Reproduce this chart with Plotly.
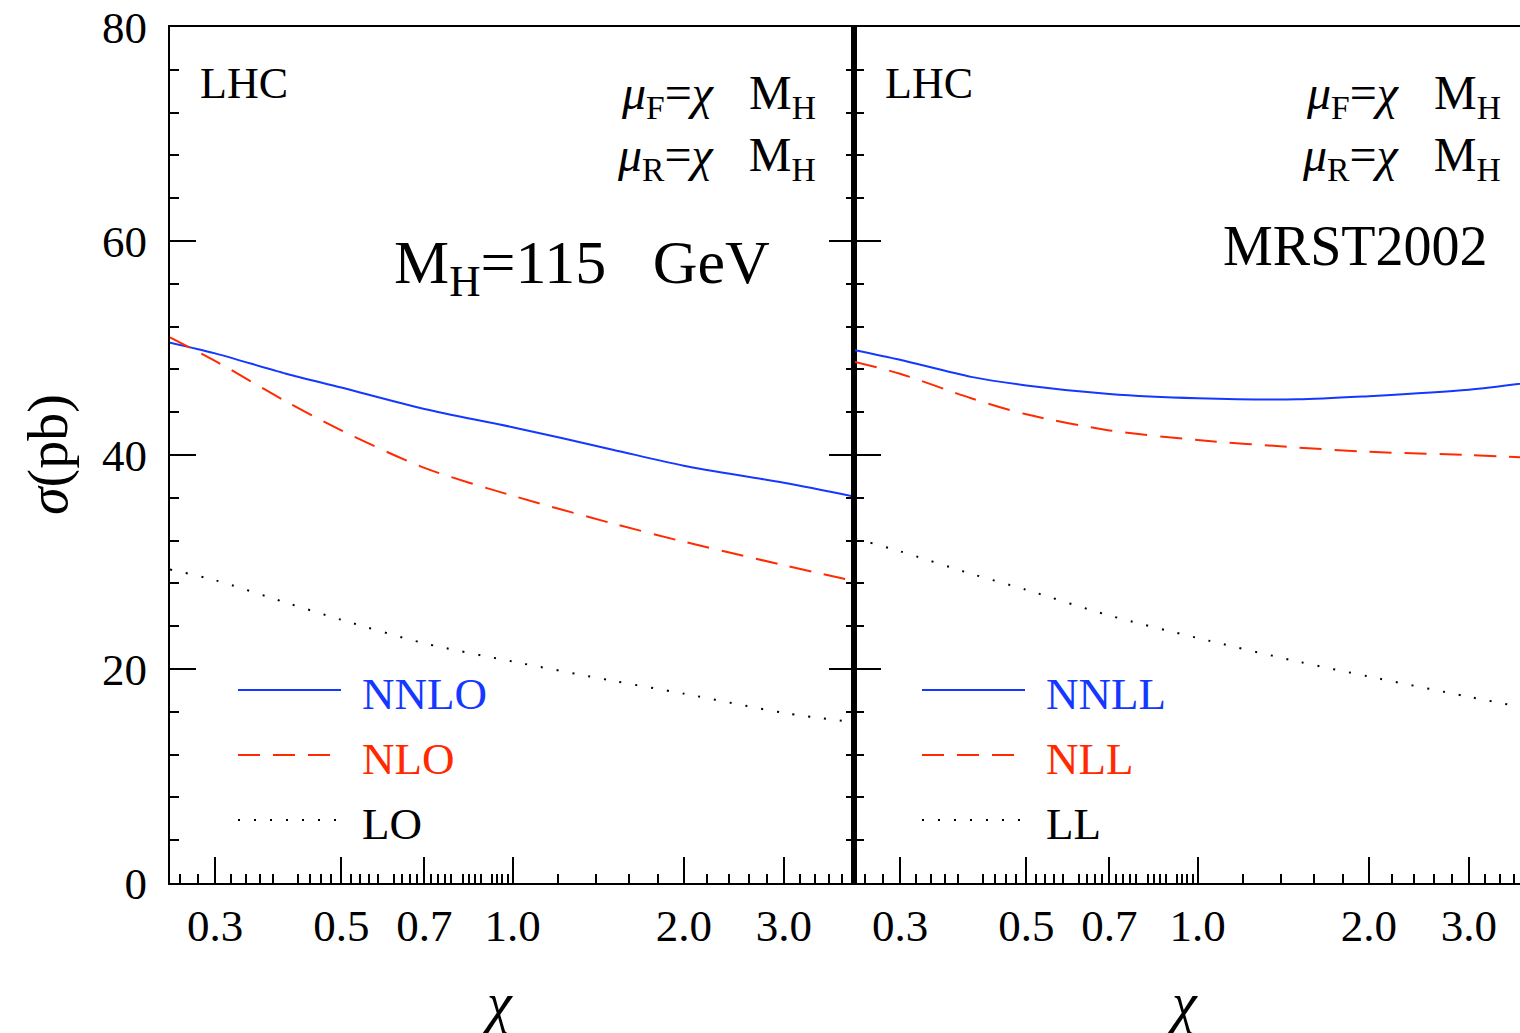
import numpy as np
import plotly.graph_objects as go

# ---------------- data ----------------
chi = [0.25, 0.3, 0.4, 0.5, 0.7, 1.0, 1.5, 2.0, 3.0, 4.0]
# left panel: fixed order
nnlo = [50.5, 49.5, 47.6, 46.3, 44.3, 42.6, 40.5, 39.0, 37.4, 36.1]
nlo = [51.0, 48.8, 45.0, 42.3, 38.8, 36.2, 33.6, 31.9, 29.7, 28.2]
lo = [29.3, 28.3, 26.2, 24.6, 22.4, 20.7, 18.9, 17.7, 15.9, 15.0]
# right panel: resummed
nnll = [49.8, 48.9, 47.3, 46.5, 45.7, 45.3, 45.2, 45.5, 46.1, 46.9]
nll = [48.7, 47.6, 45.3, 43.8, 42.3, 41.4, 40.7, 40.3, 40.0, 39.7]
ll = [32.2, 31.0, 28.9, 27.4, 25.0, 22.9, 20.7, 19.3, 17.4, 16.1]

label_ticks = [0.3, 0.5, 0.7, 1.0, 2.0, 3.0]
label_text = ["0.3", "0.5", "0.7", "1.0", "2.0", "3.0"]
long_unlabeled = [0.4, 0.6, 0.8, 0.9]
minor_ticks = [0.26, 0.28, 0.32, 0.34, 0.36, 0.38, 0.42, 0.44, 0.46, 0.48,
               0.52, 0.54, 0.56, 0.58, 0.62, 0.64, 0.66, 0.68, 0.72, 0.74, 0.76, 0.78,
               0.82, 0.84, 0.86, 0.88, 0.92, 0.94, 0.96, 0.98,
               1.2, 1.4, 1.6, 1.8, 2.2, 2.4, 2.6, 2.8, 3.2, 3.4, 3.6, 3.8]
y_major = [0, 20, 40, 60, 80]
y_minor = [4, 8, 12, 16, 24, 28, 32, 36, 44, 48, 52, 56, 64, 68, 72, 76]

BLUE = "#1438ff"
RED = "#ff2a00"
BLACK = "#000000"
FONT = "Liberation Serif"
DASH = "22px,13px"
DOT = "2px,14px"

# ---------------- geometry ----------------
W, H = 1520, 1033
L, R, T, B = 170, 1520, 27, 883
SPLIT = 855


def px(x):
    return (x - L) / (R - L)


def py(y):
    return (B - y) / (B - T)


xlo = np.log10(0.25)
xhi = np.log10(4.0)
dec_px = (SPLIT - L) / (xhi - xlo)
x2hi = xlo + (R - SPLIT) / dec_px

fig = go.Figure()

series = [
    ("x", "y", nnlo, BLUE, "solid"),
    ("x", "y", nlo, RED, DASH),
    ("x", "y", lo, BLACK, DOT),
    ("x2", "y2", nnll, BLUE, "solid"),
    ("x2", "y2", nll, RED, DASH),
    ("x2", "y2", ll, BLACK, DOT),
]
for xa, ya, vals, col, dash in series:
    fig.add_trace(go.Scatter(x=chi, y=vals, xaxis=xa, yaxis=ya, mode="lines",
                             line=dict(color=col, dash=dash, width=2, shape="spline", smoothing=0.8),
                             showlegend=False, hoverinfo="skip"))

xcommon = dict(type="log", showgrid=False, zeroline=False, showline=True, linecolor="black",
               linewidth=2, mirror=True, ticks="inside", ticklen=26, tickwidth=1.5, tickcolor="black",
               tickmode="array", tickvals=label_ticks, ticktext=label_text,
               tickfont=dict(family=FONT, size=45, color="black"), ticklabelstandoff=2,
               minor=dict(tickmode="array", tickvals=minor_ticks, ticks="inside", ticklen=9,
                          tickwidth=1.5, tickcolor="black", showgrid=False),
               automargin=False)
xlong = dict(type="log", showgrid=False, zeroline=False, showline=False, ticks="inside",
             ticklen=26, tickwidth=1.5, tickcolor="black", tickmode="array",
             tickvals=long_unlabeled, showticklabels=False, automargin=False)
ycommon = dict(range=[0, 80], showgrid=False, zeroline=False, showline=True, linecolor="black",
               ticks="inside", ticklen=26, tickwidth=1.5, tickcolor="black",
               tickmode="array", tickvals=y_major,
               minor=dict(tickmode="array", tickvals=y_minor,
                          ticks="inside", ticklen=9, tickwidth=1.5, tickcolor="black", showgrid=False),
               automargin=False)

dsplit = px(SPLIT)
fig.update_layout(
    width=W, height=H,
    margin=dict(l=L, r=W - R, t=T, b=H - B, pad=0),
    paper_bgcolor="white", plot_bgcolor="white",
    xaxis=dict(domain=[0, dsplit], range=[xlo, xhi], anchor="y", **xcommon),
    xaxis2=dict(domain=[dsplit, 1], range=[xlo, x2hi], anchor="y2", **xcommon),
    xaxis3=dict(overlaying="x", range=[xlo, xhi], anchor="y", **xlong),
    xaxis4=dict(overlaying="x2", range=[xlo, x2hi], anchor="y2", **xlong),
    yaxis=dict(domain=[0, 1], anchor="x", linewidth=2, mirror="ticks",
               tickfont=dict(family=FONT, size=45, color="black"), ticklabelstandoff=12, **ycommon),
    yaxis2=dict(domain=[0, 1], anchor="x2", linewidth=3.5, mirror=False, showticklabels=False, **ycommon),
    yaxis3=dict(range=[0, 80], overlaying="y2", anchor="free", position=1.0, side="right",
                showline=False, showgrid=False, zeroline=False, ticks="inside", ticklen=5,
                tickwidth=1.5, tickcolor="black", tickmode="array", tickvals=[20, 40, 60],
                showticklabels=False, automargin=False),
)

ann = []


def add_text(x, y, text, size, color="black", xanchor="left", yanchor="middle", angle=0):
    ann.append(dict(x=px(x), y=py(y), xref="paper", yref="paper", text=text, showarrow=False,
                    font=dict(family=FONT, size=size, color=color), xanchor=xanchor, yanchor=yanchor,
                    textangle=angle))


sp = "\u00a0"
mu_f = "<i>μ</i><sub>F</sub>=<i>χ</i>" + sp * 3 + "M<sub>H</sub>"
mu_r = "<i>μ</i><sub>R</sub>=<i>χ</i>" + sp * 3 + "M<sub>H</sub>"

for off in (0, SPLIT - L):
    add_text(198 + off, 84, "LHC", 44)
    add_text(818 + off, 96, mu_f, 48, xanchor="right")
    add_text(818 + off, 158, mu_r, 48, xanchor="right")

add_text(772, 266, "M<sub>H</sub>=115" + sp * 3 + "GeV", 62, xanchor="right")
add_text(1490, 246, "MRST2002", 56, xanchor="right")

# legends
leg_left = [("NNLO", BLUE, "solid", 692), ("NLO", RED, DASH, 757), ("LO", BLACK, DOT, 822)]
leg_right = [("NNLL", BLUE, "solid", 692), ("NLL", RED, DASH, 757), ("LL", BLACK, DOT, 822)]
shapes = []
for items, x0 in ((leg_left, 238), (leg_right, 922)):
    for name, col, dash, yy in items:
        shapes.append(dict(type="line", xref="paper", yref="paper", x0=px(x0), x1=px(x0 + 103),
                           y0=py(yy - 2), y1=py(yy - 2), line=dict(color=col, width=2, dash=dash)))
        add_text(x0 + 122, yy + 2, name, 45, color=col)

# axis titles
add_text(48, 455, "<i>σ</i>(pb)", 56, xanchor="center", angle=-90)
add_text(497, 1003, "<i>χ</i>", 56, xanchor="center")
add_text(1182, 1003, "<i>χ</i>", 56, xanchor="center")

fig.update_layout(annotations=ann, shapes=shapes)
fig.write_html("out.html")
